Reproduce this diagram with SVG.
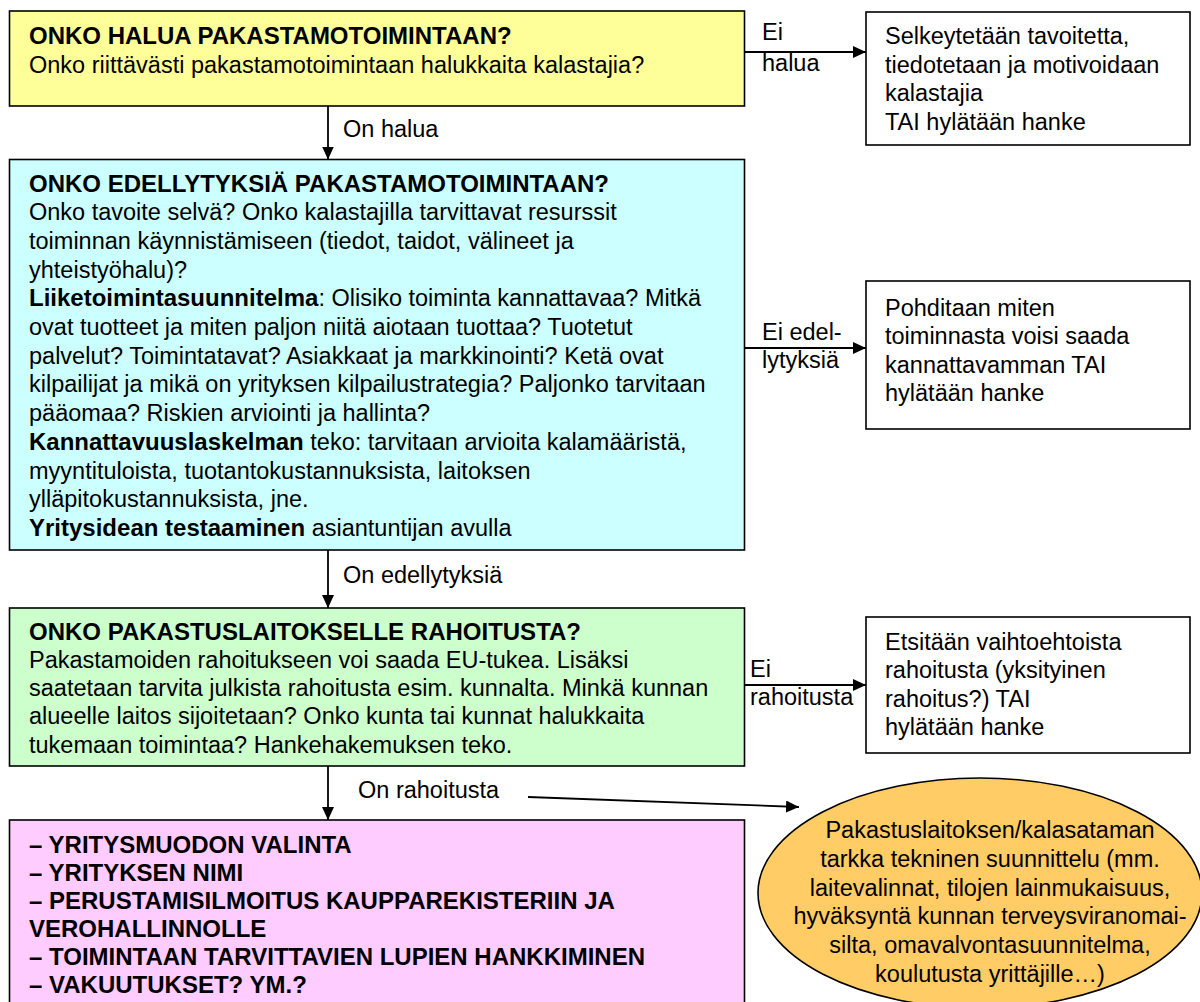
<svg xmlns="http://www.w3.org/2000/svg" width="1200" height="1002" viewBox="0 0 1200 1002">
<defs>
<marker id="ah" viewBox="0 0 13 12" refX="13" refY="6" markerWidth="13" markerHeight="12" markerUnits="userSpaceOnUse" orient="auto">
<path d="M0,0 L13,6 L0,12 z" fill="#000"/>
</marker>
<style>
text{font-family:"Liberation Sans",Arial,sans-serif;font-size:23.5px;fill:#000}
.b{font-weight:bold;font-size:24px}
.box{stroke:#000;stroke-width:1.6}
.c{stroke:#000;stroke-width:1.8;fill:none;marker-end:url(#ah)}
</style>
</defs>
<rect width="1200" height="1002" fill="#fff"/>

<g id="connectors">
<line class="c" x1="328" y1="106" x2="328" y2="159.5"/>
<line class="c" x1="328" y1="550" x2="328" y2="608"/>
<line class="c" x1="328" y1="766" x2="328" y2="820"/>
<line class="c" x1="744.5" y1="52" x2="866" y2="52"/>
<line class="c" x1="744.5" y1="348" x2="866" y2="348"/>
<line class="c" x1="744.5" y1="685" x2="866" y2="685"/>
<line class="c" x1="528" y1="797" x2="799" y2="807"/>
<text x="343" y="137">On halua</text>
<text x="343" y="583">On edellytyksiä</text>
<text x="358" y="798">On rahoitusta</text>
<text x="762" y="40">Ei</text>
<text x="762" y="71">halua</text>
<text x="762" y="340">Ei edel-</text>
<text x="762" y="368">lytyksiä</text>
<text x="750" y="677">Ei</text>
<text x="750" y="705">rahoitusta</text>
</g>

<g id="node-halua">
<rect class="box" x="9.5" y="11" width="735" height="95" fill="#FFFF99"/>
<text x="29" y="43.5" class="b">ONKO HALUA PAKASTAMOTOIMINTAAN?</text>
<text x="29" y="72.5">Onko riittävästi pakastamotoimintaan halukkaita kalastajia?</text>
</g>

<g id="node-ei-halua">
<rect class="box" x="866" y="12" width="324" height="133" fill="#fff"/>
<text x="885" y="44">Selkeytetään tavoitetta,</text>
<text x="885" y="72.5">tiedotetaan ja motivoidaan</text>
<text x="885" y="101">kalastajia</text>
<text x="885" y="129.5">TAI hylätään hanke</text>
</g>

<g id="node-edellytykset">
<rect class="box" x="9.5" y="159.5" width="735" height="390.5" fill="#CCFFFF"/>
<text x="29" y="191.5" class="b">ONKO EDELLYTYKSIÄ PAKASTAMOTOIMINTAAN?</text>
<text x="29" y="220.2">Onko tavoite selvä? Onko kalastajilla tarvittavat resurssit</text>
<text x="29" y="248.9">toiminnan käynnistämiseen (tiedot, taidot, välineet ja</text>
<text x="29" y="277.6">yhteistyöhalu)?</text>
<text x="29" y="306.3"><tspan class="b">Liiketoimintasuunnitelma</tspan>: Olisiko toiminta kannattavaa? Mitkä</text>
<text x="29" y="335">ovat tuotteet ja miten paljon niitä aiotaan tuottaa? Tuotetut</text>
<text x="29" y="363.7">palvelut? Toimintatavat? Asiakkaat ja markkinointi? Ketä ovat</text>
<text x="29" y="392.4">kilpailijat ja mikä on yrityksen kilpailustrategia? Paljonko tarvitaan</text>
<text x="29" y="421.1">pääomaa? Riskien arviointi ja hallinta?</text>
<text x="29" y="449.8"><tspan class="b">Kannattavuuslaskelman</tspan> teko: tarvitaan arvioita kalamääristä,</text>
<text x="29" y="478.5">myyntituloista, tuotantokustannuksista, laitoksen</text>
<text x="29" y="507.2">ylläpitokustannuksista, jne.</text>
<text x="29" y="535.9"><tspan class="b">Yritysidean testaaminen</tspan> asiantuntijan avulla</text>
</g>

<g id="node-ei-edellytyksia">
<rect class="box" x="866" y="281" width="324" height="148" fill="#fff"/>
<text x="885" y="315.5">Pohditaan miten</text>
<text x="885" y="344">toiminnasta voisi saada</text>
<text x="885" y="372.5">kannattavamman TAI</text>
<text x="885" y="401">hylätään hanke</text>
</g>

<g id="node-rahoitus">
<rect class="box" x="9.5" y="608" width="735" height="158" fill="#CCFFCC"/>
<text x="29" y="639.5" class="b">ONKO PAKASTUSLAITOKSELLE RAHOITUSTA?</text>
<text x="29" y="667.8">Pakastamoiden rahoitukseen voi saada EU-tukea. Lisäksi</text>
<text x="29" y="696.1">saatetaan tarvita julkista rahoitusta esim. kunnalta. Minkä kunnan</text>
<text x="29" y="724.4">alueelle laitos sijoitetaan? Onko kunta tai kunnat halukkaita</text>
<text x="29" y="752.7">tukemaan toimintaa? Hankehakemuksen teko.</text>
</g>

<g id="node-ei-rahoitusta">
<rect class="box" x="866" y="617" width="324" height="136" fill="#fff"/>
<text x="885" y="650">Etsitään vaihtoehtoista</text>
<text x="885" y="678.3">rahoitusta (yksityinen</text>
<text x="885" y="706.6">rahoitus?) TAI</text>
<text x="885" y="734.9">hylätään hanke</text>
</g>

<g id="node-yritys">
<rect class="box" x="9.5" y="820" width="735" height="200" fill="#FFCCFF"/>
<text x="29" y="853" class="b">– YRITYSMUODON VALINTA</text>
<text x="29" y="881" class="b">– YRITYKSEN NIMI</text>
<text x="29" y="909" class="b">– PERUSTAMISILMOITUS KAUPPAREKISTERIIN JA</text>
<text x="29" y="937" class="b">VEROHALLINNOLLE</text>
<text x="29" y="965" class="b">– TOIMINTAAN TARVITTAVIEN LUPIEN HANKKIMINEN</text>
<text x="29" y="993" class="b">– VAKUUTUKSET? YM.?</text>
</g>

<g id="node-suunnittelu">
<ellipse class="box" cx="980" cy="893" rx="222" ry="115" fill="#FFCC66"/>
<g text-anchor="middle">
<text x="990" y="838">Pakastuslaitoksen/kalasataman</text>
<text x="990" y="866.8">tarkka tekninen suunnittelu (mm.</text>
<text x="990" y="895.6">laitevalinnat, tilojen lainmukaisuus,</text>
<text x="990" y="924.4">hyväksyntä kunnan terveysviranomai-</text>
<text x="990" y="953.2">silta, omavalvontasuunnitelma,</text>
<text x="990" y="982">koulutusta yrittäjille…)</text>
</g>
</g>
</svg>
